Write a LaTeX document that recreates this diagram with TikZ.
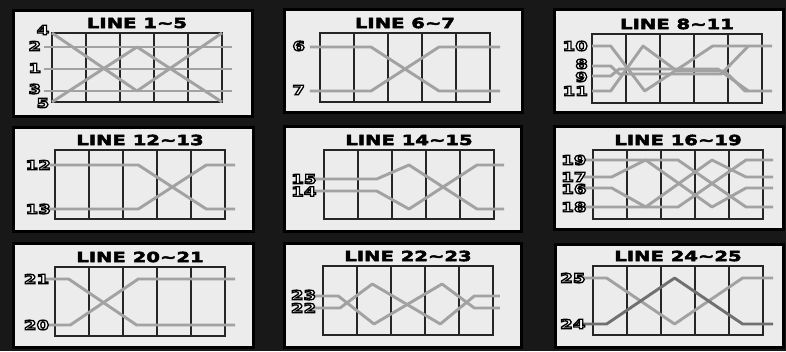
\documentclass[tikz,border=0pt]{standalone}
\usepackage{fontspec}
\newfontfamily\panelfont{DejaVu Sans}[FakeStretch=1.4]
\definecolor{bgdark}{RGB}{24,24,24}
\definecolor{panelgray}{RGB}{236,236,236}
\definecolor{paygray}{RGB}{162,162,162}
\definecolor{paydark}{RGB}{112,112,112}
% white digits with a black outline (text render mode 2)
\newcommand{\linenum}[1]{\textcolor{white}{\special{pdf:literal direct 0 G 1.3 w 2 Tr}#1\special{pdf:literal direct 0 Tr}}}
% heavier black title text
\newcommand{\heavytitle}[1]{\special{pdf:literal direct 0 G 0.5 w 2 Tr}#1\special{pdf:literal direct 0 Tr}}
\newcommand{\reelgrid}{%
  \draw[gridbox] (0,0) rectangle (5,69);
  \foreach \c in {1,...,4} \draw[gridbox] (\c,0) -- (\c,69);}
\tikzset{
  panelbox/.style={draw=black, fill=panelgray, line width=3pt},
  gridbox/.style={draw=black!85, line width=1.6pt},
  payline/.style={draw=paygray, line width=2.9pt, line join=round},
  darkline/.style={payline, draw=paydark},
  paneltitle/.style={font=\panelfont\bfseries\fontsize{14}{14}\selectfont, inner sep=0pt},
  numlabel/.style={font=\panelfont\bfseries\fontsize{13}{13}\selectfont, anchor=east, inner sep=0.5pt},
}
\usetikzlibrary{positioning}
\begin{document}
\begin{tikzpicture}[x=1pt, y=-1pt]
  \useasboundingbox (0,0) rectangle (786,351);
  \fill[bgdark] (0,0) rectangle (786,351);

  % panels
  \draw[panelbox] (13,10) rectangle (252,116);
  \draw[panelbox] (284,9) rectangle (522,112);
  \draw[panelbox] (554,9) rectangle (783,112);
  \draw[panelbox] (13,127) rectangle (253,231);
  \draw[panelbox] (284,126) rectangle (521,231);
  \draw[panelbox] (554,126) rectangle (783,229);
  \draw[panelbox] (13,243) rectangle (253,347);
  \draw[panelbox] (284,243) rectangle (521,347);
  \draw[panelbox] (555,244) rectangle (783,347);

  % LINE 1~5
  \begin{scope}[shift={(52,33)}, x=34pt]
    \node[paneltitle] (t1) at (2.5,-10) {\heavytitle{LINE 1\textasciitilde 5}};
    \reelgrid
    \draw[payline] (-0.25,14) -- (5.3,14);
    \draw[payline] (-0.25,36) -- (5.3,36);
    \draw[payline] (-0.25,58) -- (5.3,58);
    \draw[payline] (0,0) -- (2.5,58) -- (5,0);
    \draw[payline] (0,69) -- (2.5,14) -- (5,69);
    \node[numlabel] (n4) at (-0.06,-3) {\linenum{4}};
    \node[numlabel] (n2) at (-0.3,13) {\linenum{2}};
    \node[numlabel] (n1) at (-0.3,35) {\linenum{1}};
    \node[numlabel] (n3) at (-0.3,56) {\linenum{3}};
    \node[numlabel] (n5) at (-0.06,70) {\linenum{5}};
  \end{scope}

  % LINE 6~7
  \begin{scope}[shift={(320,33)}, x=34pt]
    \node[paneltitle] (t2) at (2.5,-10) {\heavytitle{LINE 6\textasciitilde 7}};
    \reelgrid
    \draw[payline] (-0.3,14) -- (1.5,14) -- (3.5,58) -- (5.3,58);
    \draw[payline] (-0.3,58) -- (1.5,58) -- (3.5,14) -- (5.3,14);
    \node[numlabel] (n6) at (-0.42,13) {\linenum{6}};
    \node[numlabel] (n7) at (-0.42,57) {\linenum{7}};
  \end{scope}

  % LINE 8~11
  \begin{scope}[shift={(592,34)}, x=34pt]
    \node[paneltitle] (t3) at (2.5,-10) {\heavytitle{LINE 8\textasciitilde 11}};
    \reelgrid
    \draw[payline] (0,12) -- (0.55,12) -- (1.55,57) -- (3.55,12) -- (5.3,12);
    \draw[payline] (0,57) -- (0.55,57) -- (1.5,12) -- (2.5,37) -- (3.9,37) -- (4.5,57) -- (5.3,57);
    \draw[payline] (0,32) -- (0.55,32) -- (0.8,40) -- (3.8,40) -- (4.6,12);
    \draw[payline] (0,42) -- (0.55,42) -- (0.8,35) -- (3.7,35) -- (4.6,57);
    \node[numlabel] (n10) at (-0.1,12) {\linenum{10}};
    \node[numlabel] (n8) at (-0.1,30) {\linenum{8}};
    \node[numlabel] (n9) at (-0.1,43) {\linenum{9}};
    \node[numlabel] (n11) at (-0.1,57) {\linenum{11}};
  \end{scope}

  % LINE 12~13
  \begin{scope}[shift={(55,150)}, x=34pt]
    \node[paneltitle] (t4) at (2.5,-10) {\heavytitle{LINE 12\textasciitilde 13}};
    \reelgrid
    \draw[payline] (-0.15,15) -- (2.45,15) -- (4.45,59) -- (5.3,59);
    \draw[payline] (-0.15,59) -- (2.45,59) -- (4.45,15) -- (5.3,15);
    \node[numlabel] (n12) at (-0.1,15) {\linenum{12}};
    \node[numlabel] (n13) at (-0.1,59) {\linenum{13}};
  \end{scope}

  % LINE 14~15
  \begin{scope}[shift={(324,150)}, x=34pt]
    \node[paneltitle] (t5) at (2.5,-10) {\heavytitle{LINE 14\textasciitilde 15}};
    \reelgrid
    \draw[payline] (-0.4,29) -- (1.55,29) -- (2.5,15) -- (4.5,59) -- (5.3,59);
    \draw[payline] (-0.4,41) -- (1.55,41) -- (2.5,59) -- (4.5,15) -- (5.3,15);
    \node[numlabel] (n15) at (-0.2,29) {\linenum{15}};
    \node[numlabel] (n14) at (-0.2,41.5) {\linenum{14}};
  \end{scope}

  % LINE 16~19
  \begin{scope}[shift={(593,150)}, x=34pt]
    \node[paneltitle] (t6) at (2.5,-10) {\heavytitle{LINE 16\textasciitilde 19}};
    \reelgrid
    \draw[payline] (-0.3,10) -- (2.5,10) -- (4.5,57) -- (5.3,57);
    \draw[payline] (-0.3,57) -- (2.5,57) -- (4.5,10) -- (5.3,10);
    \draw[payline] (-0.3,27) -- (0.55,27) -- (1.55,10) -- (3.5,57) -- (4.5,38) -- (5.3,38);
    \draw[payline] (-0.3,38) -- (0.55,38) -- (1.55,57) -- (3.5,10) -- (4.5,27) -- (5.3,27);
    \node[numlabel] (n19) at (-0.17,10) {\linenum{19}};
    \node[numlabel] (n17) at (-0.17,27) {\linenum{17}};
    \node[numlabel] (n16) at (-0.17,39) {\linenum{16}};
    \node[numlabel] (n18) at (-0.17,57) {\linenum{18}};
  \end{scope}

  % LINE 20~21
  \begin{scope}[shift={(55,267)}, x=34pt]
    \node[paneltitle] (t7) at (2.5,-10) {\heavytitle{LINE 20\textasciitilde 21}};
    \reelgrid
    \draw[payline] (-0.3,12) -- (0.4,12) -- (2.4,58) -- (5.3,58);
    \draw[payline] (-0.3,58) -- (0.45,58) -- (2.45,12) -- (5.3,12);
    \node[numlabel] (n21) at (-0.15,12) {\linenum{21}};
    \node[numlabel] (n20) at (-0.15,58) {\linenum{20}};
  \end{scope}

  % LINE 22~23
  \begin{scope}[shift={(323,266)}, x=34pt]
    \node[paneltitle] (t8) at (2.5,-10) {\heavytitle{LINE 22\textasciitilde 23}};
    \reelgrid
    \draw[payline] (-0.3,30) -- (0.45,30) -- (1.5,58) -- (3.5,18) -- (4.45,42) -- (5.2,42);
    \draw[payline] (-0.3,42) -- (0.5,42) -- (1.45,18) -- (3.45,58) -- (4.45,30) -- (5.2,30);
    \node[numlabel] (n23) at (-0.18,29) {\linenum{23}};
    \node[numlabel] (n22) at (-0.18,42) {\linenum{22}};
  \end{scope}

  % LINE 24~25
  \begin{scope}[shift={(593,266)}, x=34pt]
    \node[paneltitle] (t9) at (2.5,-10) {\heavytitle{LINE 24\textasciitilde 25}};
    \reelgrid
    \draw[payline] (-0.3,12) -- (0.4,12) -- (2.4,58) -- (4.4,12) -- (5.3,12);
    \draw[darkline] (-0.3,58) -- (0.4,58) -- (2.4,12) -- (4.4,58) -- (5.3,58);
    \node[numlabel] (n25) at (-0.2,12) {\linenum{25}};
    \node[numlabel] (n24) at (-0.2,58) {\linenum{24}};
  \end{scope}
\end{tikzpicture}
\end{document}
